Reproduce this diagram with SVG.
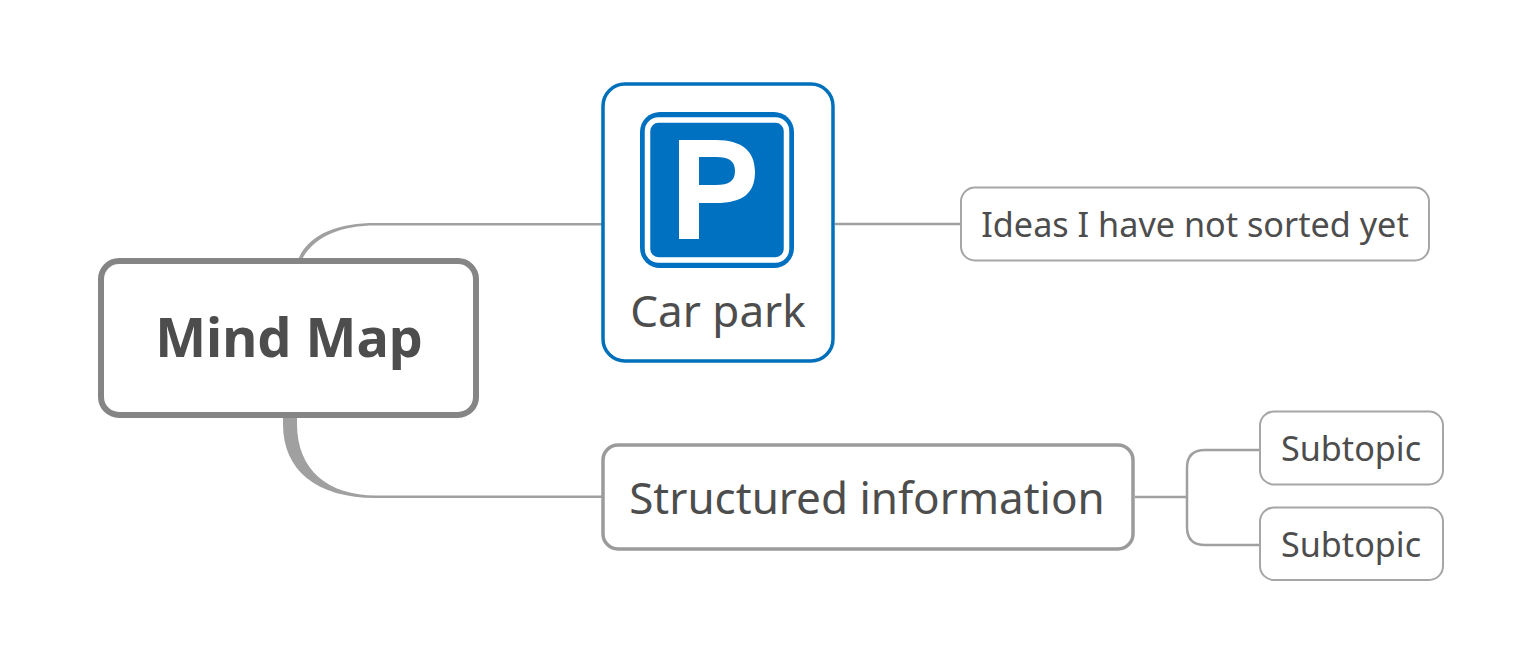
<svg xmlns="http://www.w3.org/2000/svg" width="1531" height="670" viewBox="0 0 1531 670">
<style>
text{font-family:"Noto Sans","Open Sans","DejaVu Sans",sans-serif;fill:#4d4d4d;text-anchor:middle}
.box{fill:#fff}
.line{fill:none;stroke:#a0a0a0;stroke-width:2.5}
.sub{stroke:#a6a6a6;stroke-width:2}
.big{font-size:44px}
.small{font-size:34.2px}
</style>
<rect width="1531" height="670" fill="#fff"/>
<g id="connectors">
<path d="M297 262C307 235 336 223 376 223H603V225.500H376C338 225.500 312 238 300.500 262Z" fill="#a0a0a0"/>
<path d="M283 412V424C283 470 316 498 376 498H603V495.500H376C328 495.500 297 470 297 424V412Z" fill="#a0a0a0"/>
<path class="line" d="M835 224H961"/>
<path class="line" d="M1135 497H1187"/>
<path class="line" d="M1260 450H1205Q1187 450 1187 468V527Q1187 545 1205 545H1260"/>
</g>
<g id="root">
<rect class="box" x="101" y="261" width="375" height="154" rx="18" stroke="#858585" stroke-width="6"/>
<text x="289" y="357" font-size="54" font-weight="700">Mind Map</text>
</g>
<g id="car-park">
<rect class="box" x="603" y="84" width="230" height="277" rx="22" stroke="#0070bb" stroke-width="3.5"/>
<rect x="640" y="112" width="154" height="156" rx="20" fill="#0070c0"/>
<rect x="647.500" y="120" width="139" height="140" rx="11" fill="none" stroke="#fff" stroke-width="5.500"/>
<path fill-rule="evenodd" d="M679 140H716C743 140 755 152 755 172C755 193 743 203 716 203H699V239H679ZM699 157V185H716C729 185 735 181 735 171C735 161 729 157 716 157Z" fill="#fff"/>
<text x="718" y="327" class="big">Car park</text>
</g>
<g id="structured">
<rect class="box" x="603" y="445" width="530" height="104" rx="15" stroke="#9b9b9b" stroke-width="3.5"/>
<text x="867" y="514" class="big">Structured information</text>
</g>
<g id="ideas">
<rect class="box sub" x="961" y="187.500" width="468" height="73" rx="14"/>
<text x="1195" y="237" class="small">Ideas I have not sorted yet</text>
</g>
<g id="sub-1">
<rect class="box sub" x="1260" y="411.500" width="183" height="73" rx="14"/>
<text x="1351" y="461" class="small">Subtopic</text>
</g>
<g id="sub-2">
<rect class="box sub" x="1260" y="507.500" width="183" height="72.500" rx="14"/>
<text x="1351" y="557" class="small">Subtopic</text>
</g>
</svg>
